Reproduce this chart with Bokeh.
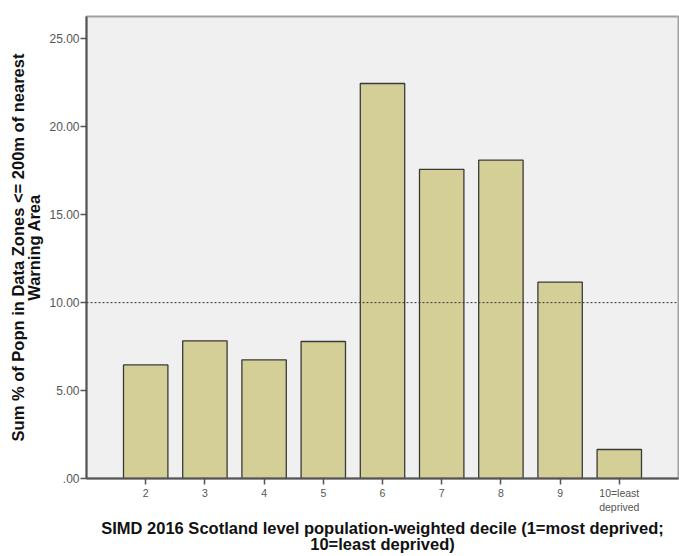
from bokeh.plotting import figure
from bokeh.models import ColumnDataSource, FixedTicker, Span, Range1d
from bokeh.embed import file_html
from bokeh.resources import INLINE

deciles = [2, 3, 4, 5, 6, 7, 8, 9, 10]
tick_labels = ["2", "3", "4", "5", "6", "7", "8", "9", "10=least\ndeprived"]
values = [6.46, 7.83, 6.75, 7.79, 22.46, 17.58, 18.10, 11.17, 1.65]
y_ticks = [0, 5, 10, 15, 20, 25]
y_tick_labels = [".00", "5.00", "10.00", "15.00", "20.00", "25.00"]
reference = 10.0

src = ColumnDataSource(dict(x=deciles, top=values))

p = figure(width=679, height=556, output_backend="svg", toolbar_location=None,
           x_range=Range1d(1.0, 11.0), y_range=Range1d(0, 26.27),
           min_border_left=86, min_border_right=1, min_border_top=16, min_border_bottom=0)

p.background_fill_color = "#f0f0f0"
p.border_fill_color = "white"
p.outline_line_color = "#a0a0a0"
p.outline_line_width = 2
p.xgrid.visible = False
p.ygrid.visible = False

p.vbar(x="x", top="top", bottom=0, width=0.75, source=src,
       fill_color="#d3cf96", line_color="#3a3a3a", line_width=1.3)

p.add_layout(Span(location=reference, dimension="width", line_color="#333333",
                  line_dash="2 2", line_width=1))

fs = "Liberation Sans"
p.xaxis.ticker = FixedTicker(ticks=deciles)
p.xaxis.major_label_overrides = {d: l for d, l in zip(deciles, tick_labels)}
p.yaxis.ticker = FixedTicker(ticks=y_ticks)
p.yaxis.major_label_overrides = {t: l for t, l in zip(y_ticks, y_tick_labels)}
for ax in (p.xaxis, p.yaxis):
    ax.axis_line_color = "#555555"
    ax.axis_line_width = 2
    ax.major_tick_line_color = "#555555"
    ax.major_tick_line_width = 1.5
    ax.major_tick_out = 6
    ax.major_tick_in = 0
    ax.minor_tick_line_color = None
    ax.major_label_text_font = fs
    ax.major_label_text_color = "#555555"
    ax.axis_label_text_font = fs
    ax.axis_label_text_font_style = "bold"
    ax.axis_label_text_font_size = "16.5px"
    ax.axis_label_text_line_height = 0.9
    ax.axis_label_text_color = "#111111"

p.xaxis.major_label_text_font_size = "10.5px"
p.yaxis.major_label_text_font_size = "12px"
p.xaxis.major_label_standoff = 2
p.yaxis.major_label_standoff = 1
p.xaxis.axis_label = "SIMD 2016 Scotland level population-weighted decile (1=most deprived;\n10=least deprived)"
p.xaxis.axis_label_standoff = 3
p.yaxis.axis_label = "Sum % of Popn in Data Zones <= 200m of nearest\nWarning Area"
p.yaxis.axis_label_standoff = 3

open("out.html", "w").write(file_html(p, INLINE))
